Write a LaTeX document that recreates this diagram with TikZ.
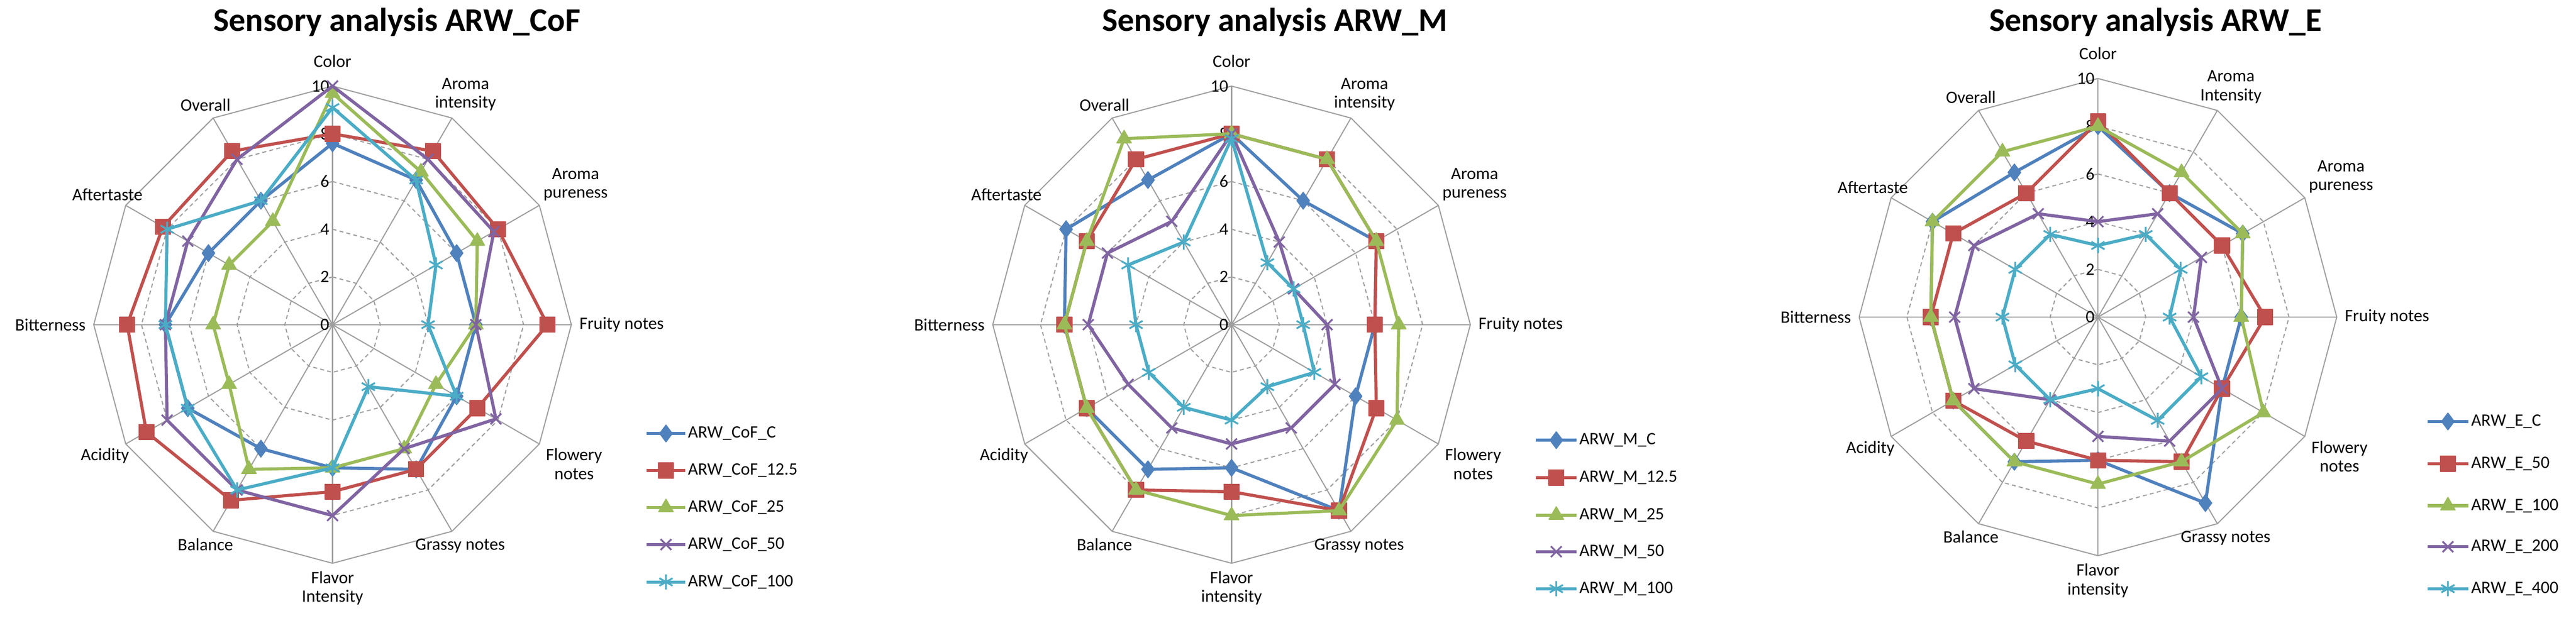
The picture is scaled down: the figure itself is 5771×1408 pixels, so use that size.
\documentclass[tikz,border=0pt]{standalone}
\usepackage{fontspec}
\setmainfont{Carlito}
\usetikzlibrary{plotmarks}
\definecolor{cA}{HTML}{4F81BD}
\definecolor{cB}{HTML}{C0504D}
\definecolor{cC}{HTML}{9BBB59}
\definecolor{cD}{HTML}{8064A2}
\definecolor{cE}{HTML}{4BACC6}
\tikzset{
  lab/.style={font=\fontsize{39}{42}\selectfont, align=center, inner sep=2pt},
  ttl/.style={font=\fontsize{74}{80}\selectfont\bfseries},
  grid/.style={draw=gray!75, line width=2.5pt},
  ring/.style={draw=gray!75, line width=2.5pt, dash pattern=on 9pt off 7pt},
  sA/.style={draw=cA, line width=7pt, line join=round, mark size=19pt, mark options={solid, fill=cA, draw=cA, line width=2pt}},
  sB/.style={draw=cB, line width=7pt, line join=round, mark size=17pt, mark options={solid, fill=cB, draw=cB, line width=2pt}},
  sC/.style={draw=cC, line width=7pt, line join=round, mark size=19pt, mark options={solid, fill=cC, draw=cC, line width=2pt}},
  sD/.style={draw=cD, line width=7pt, line join=round, mark size=17pt, mark options={solid, draw=cD, line width=4pt}},
  sE/.style={draw=cE, line width=7pt, line join=round, mark size=17pt, mark options={solid, draw=cE, line width=4pt}},
}
% #1 style, #2 mark, #3 first value, #4 remaining 11 values
\newcommand\rser[4]{%
  \draw[#1] (90:#3) \foreach \v [count=\i] in {#4}{ -- ({90-30*\i}:\v) } -- cycle;
  \foreach \v [count=\i from 0] in {#3,#4}{\path[#1] plot[mark=#2] coordinates {({90-30*\i}:\v)};}
}
% #1 labels list
\newcommand\rgrid[1]{%
  \foreach \r in {2,4,6,8}{\draw[ring] (90:\r) \foreach \k in {1,...,11}{ -- ({90-30*\k}:\r)} -- cycle;}
  \draw[grid] (90:10) \foreach \k in {1,...,11}{ -- ({90-30*\k}:10)} -- cycle;
  \foreach \k in {0,...,11}{\draw[grid] (0,0) -- ({90-30*\k}:10);}
  \foreach \r in {0,2,4,6,8,10}{\node[lab, anchor=east, text=black] at (-0.1,\r) {\r};}
  \foreach \l [count=\i from 0] in {#1}{%
    \pgfmathtruncatemacro\an{mod(270-30*\i+720,360)}%
    \pgfmathsetmacro\rr{\i==0 ? 10.75 : 10.3}%
    \node[lab, anchor=\an] at ({90-30*\i}:\rr) {\l};}
}
% legend entry: #1 style, #2 mark, #3 x1, #4 x2, #5 y, #6 text
\newcommand\lgd[6]{%
  \draw[#1] (#3pt,#5pt) -- (#4pt,#5pt);
  \path[#1] plot[mark=#2] coordinates {({(#3+#4)/2*1pt},#5pt)};
  \node[lab, anchor=west, inner sep=0pt] at (#4pt+6pt,#5pt) {#6};
}
\begin{document}
\begin{tikzpicture}
\useasboundingbox[fill=white] (0pt,0pt) rectangle (5771pt,1408pt);
% ---------- Chart 1
\node[ttl] (t1) at (889pt,1358pt) {Sensory analysis ARW\_CoF};
\begin{scope}[shift={(745pt,680pt)}, x=53.5pt, y=53.5pt]
  \rgrid{Color,{Aroma\\intensity},{Aroma\\pureness},Fruity notes,{Flowery\\notes},Grassy notes,{Flavor\\Intensity},Balance,Acidity,Bitterness,Aftertaste,Overall}
  \rser{sA}{diamond*}{7.6}{7,6,6,6,7,6,6,7,7,6,6}
  \rser{sB}{square*}{8}{8.4,8,9,7,7,7,8.5,9,8.6,8.2,8.4}
  \rser{sC}{triangle*}{9.7}{7.4,7,6,5,6,6,7,5,5,5,5}
  \rser{sD}{x}{10}{8,7.8,6,7.9,6,8,8,8,7,7,8}
  \rser{sE}{asterisk}{9.1}{7,5,4,6,3,6,8,7,7,8,6}
\end{scope}
\lgd{sA}{diamond*}{1449}{1535}{436}{ARW\_CoF\_C}
\lgd{sB}{square*}{1449}{1535}{353}{ARW\_CoF\_12.5}
\lgd{sC}{triangle*}{1449}{1535}{270}{ARW\_CoF\_25}
\lgd{sD}{x}{1449}{1535}{187}{ARW\_CoF\_50}
\lgd{sE}{asterisk}{1449}{1535}{103}{ARW\_CoF\_100}
% ---------- Chart 2
\node[ttl] (t2) at (2856pt,1358pt) {Sensory analysis ARW\_M};
\begin{scope}[shift={(2759pt,680pt)}, x=53.5pt, y=53.5pt]
  \rgrid{Color,{Aroma\\intensity},{Aroma\\pureness},Fruity notes,{Flowery\\notes},Grassy notes,{Flavor\\intensity},Balance,Acidity,Bitterness,Aftertaste,Overall}
  \rser{sA}{diamond*}{8}{6,7,6,6,9,6,7,7,7,8,7}
  \rser{sB}{square*}{8}{8,7,6,7,9,7,8,7,7,7,8}
  \rser{sC}{triangle*}{8}{8,7,7,8,9,8,8,7,7,7,9}
  \rser{sD}{x}{8}{4,3,4,5,5,5,5,5,6,6,5}
  \rser{sE}{asterisk}{7.8}{3,3,3,4,3,4,4,4,4,5,4}
\end{scope}
\lgd{sA}{diamond*}{3441}{3532}{421}{ARW\_M\_C}
\lgd{sB}{square*}{3441}{3532}{337}{ARW\_M\_12.5}
\lgd{sC}{triangle*}{3441}{3532}{253}{ARW\_M\_25}
\lgd{sD}{x}{3441}{3532}{171}{ARW\_M\_50}
\lgd{sE}{asterisk}{3441}{3532}{88}{ARW\_M\_100}
% ---------- Chart 3
\node[ttl] (t3) at (4829pt,1358pt) {Sensory analysis ARW\_E};
\begin{scope}[shift={(4700pt,697pt)}, x=53.5pt, y=53.5pt]
  \rgrid{Color,{Aroma\\Intensity},{Aroma\\pureness},Fruity notes,{Flowery\\notes},Grassy notes,{Flavor\\intensity},Balance,Acidity,Bitterness,Aftertaste,Overall}
  \rser{sA}{diamond*}{8}{6,7,6,6,9,6,7,7,7,8,7}
  \rser{sB}{square*}{8.2}{6,6,7,6,7,6,6,7,7,7,6}
  \rser{sC}{triangle*}{8}{7,7,6,8,7,7,7,7,7,8,8}
  \rser{sD}{x}{4}{5,5,4,6,6,5,4,6,6,6,5}
  \rser{sE}{asterisk}{3}{4,4,3,5,5,3,4,4,4,4,4}
\end{scope}
\lgd{sA}{diamond*}{5438}{5530}{463}{ARW\_E\_C}
\lgd{sB}{square*}{5438}{5530}{368}{ARW\_E\_50}
\lgd{sC}{triangle*}{5438}{5530}{274}{ARW\_E\_100}
\lgd{sD}{x}{5438}{5530}{182}{ARW\_E\_200}
\lgd{sE}{asterisk}{5438}{5530}{88}{ARW\_E\_400}
\end{tikzpicture}
\end{document}
